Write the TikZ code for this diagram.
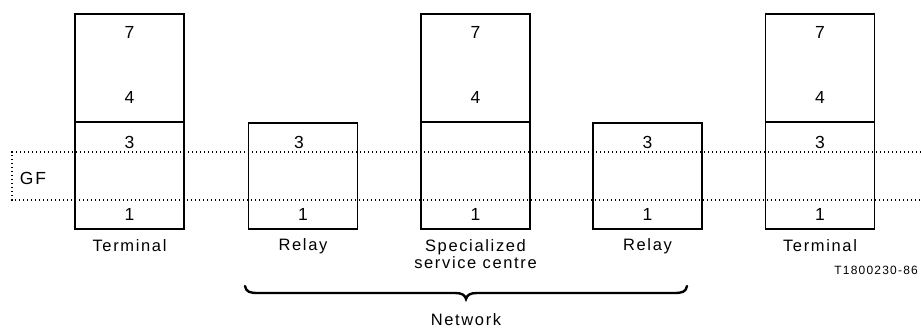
\documentclass[tikz,border=0pt]{standalone}
\usepackage{fontspec}
\setmainfont{Liberation Sans}[LetterSpace=10]
\begin{document}
\begin{tikzpicture}[x=1pt,y=-1pt,
  lay/.style={draw=black,line width=1.5pt,minimum width=109pt,inner sep=0pt,outer sep=0pt},
  num/.style={font=\fontsize{17.5}{20}\selectfont,inner sep=0pt},
  lbl/.style={font=\fontsize{16.5}{19}\selectfont,inner sep=0pt,align=center},
  dotline/.style={line width=1.6pt,dash pattern=on 1.4pt off 2.6pt},
  bracestyle/.style={line width=2.4pt,line cap=round}]
\useasboundingbox (0,0) rectangle (921,332);
% terminal left
\node[lay,minimum height=108pt] (tlu) at (129.5,68) {};
\node[lay,minimum height=107pt] (tll) at (129.5,175.5) {};
% relay 1
\node[lay,minimum height=106pt] (r1) at (303,176) {};
% SSC
\node[lay,minimum height=108pt] (su) at (475.5,68) {};
\node[lay,minimum height=107pt] (sl) at (475.5,175.5) {};
% relay 2
\node[lay,minimum height=106pt] (r2) at (647.5,176) {};
% terminal right
\node[lay,minimum height=108pt] (tru) at (820,68) {};
\node[lay,minimum height=107pt] (trl) at (820,175.5) {};
% numbers
\node[num] (n7a) at (129.5,32) {7};
\node[num] (n4a) at (129.5,97) {4};
\node[num] (n3a) at (129.5,142) {3};
\node[num] (n1a) at (129.5,214) {1};
\node[num] (n3b) at (299,142) {3};
\node[num] (n1b) at (303,214) {1};
\node[num] (n7c) at (475.5,32) {7};
\node[num] (n4c) at (475.5,97) {4};
\node[num] (n1c) at (475.5,214) {1};
\node[num] (n3d) at (647.5,142) {3};
\node[num] (n1d) at (647.5,214) {1};
\node[num] (n7e) at (820,32) {7};
\node[num] (n4e) at (820,97) {4};
\node[num] (n3e) at (820,142) {3};
\node[num] (n1e) at (820,214) {1};
% GF dotted
\coordinate (g1) at (12,152);
\coordinate (g2) at (921,152);
\coordinate (g3) at (12,200);
\coordinate (g4) at (921,200);
\draw[dotline] (g2) -- (g1) -- (g3) -- (g4);
\node[num] (gf) at (33,178) {GF};
% labels
\node[lbl] (lt1) at (129.5,246) {Terminal};
\node[lbl] (lr1) at (303,246) {Relay};
\node[lbl,anchor=north] (ls) at (475.5,239) {Specialized\\[-2pt]service centre};
\node[lbl] (lr2) at (647.5,246) {Relay};
\node[lbl] (lt2) at (820,246) {Terminal};
\node[font=\fontsize{12}{14}\selectfont,inner sep=0pt,anchor=east] (code) at (918,270) {T1800230-86};
% brace
\coordinate (b1) at (245,286);
\coordinate (b2) at (687,286);
\coordinate (bm) at (466,299);
\draw[bracestyle] (b1) .. controls (246,292) and (250,293) .. (258,293) -- (455,293)
  .. controls (462,293) and (465,295) .. (bm)
  .. controls (467,295) and (470,293) .. (477,293) -- (674,293)
  .. controls (682,293) and (686,292) .. (b2);
\node[lbl] (net) at (466,320) {Network};
\end{tikzpicture}
\end{document}
